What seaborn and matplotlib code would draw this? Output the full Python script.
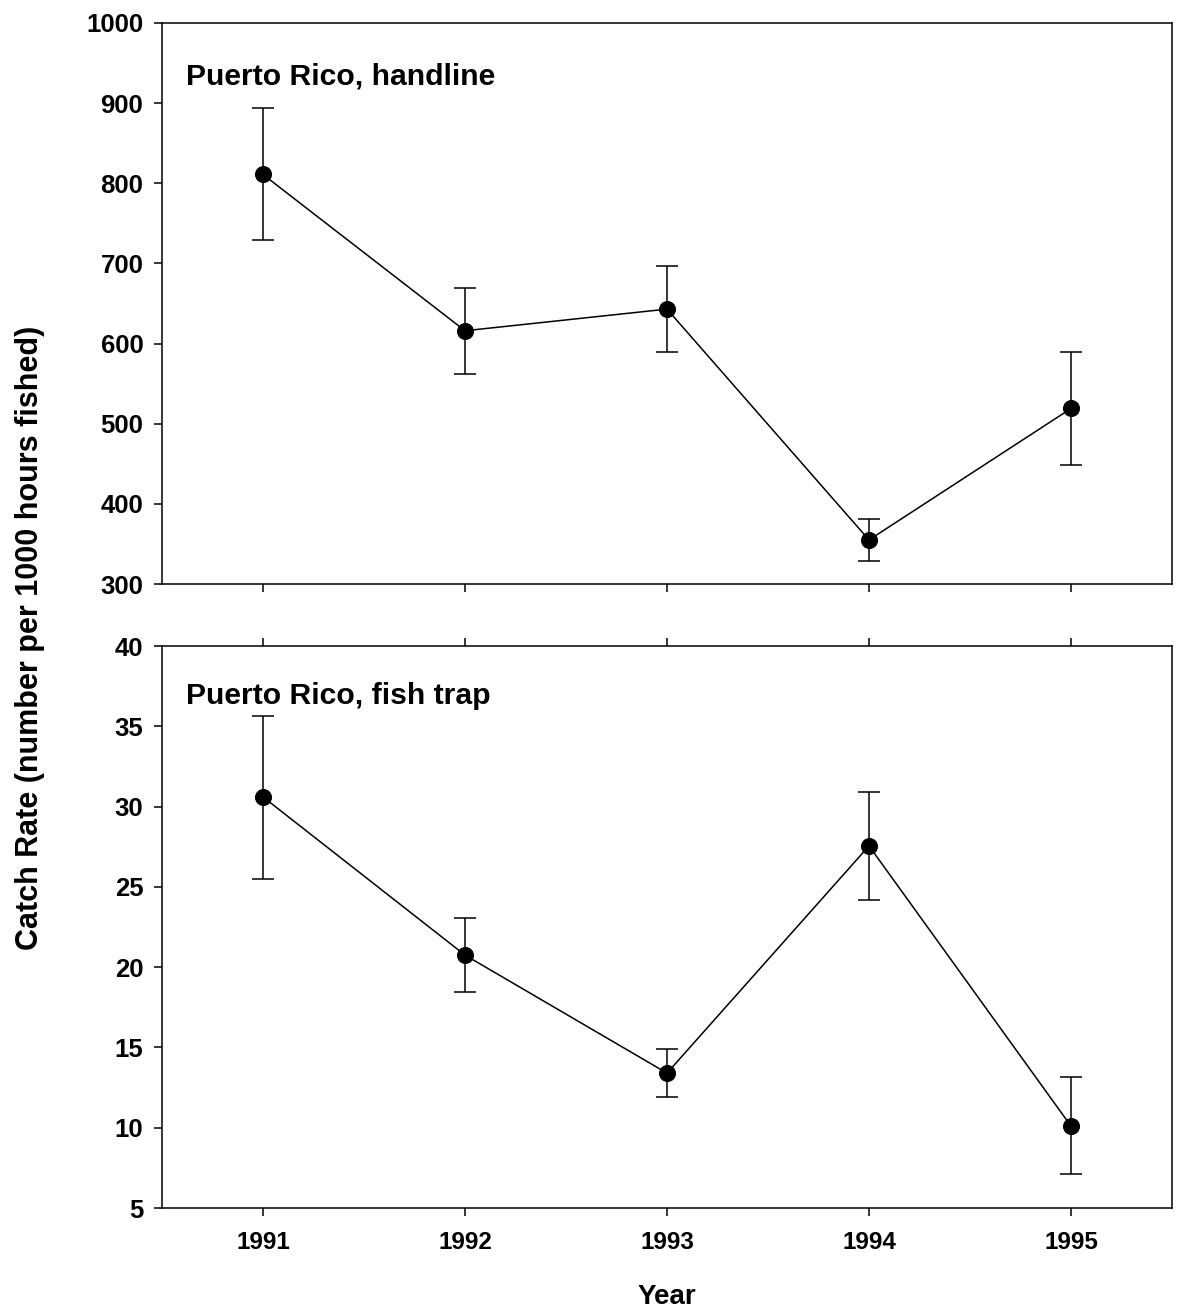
import matplotlib
matplotlib.use("Agg")
import matplotlib.pyplot as plt
import seaborn as sns
import numpy as np
import pandas as pd

years = [1991, 1992, 1993, 1994, 1995]

# Puerto Rico handline catch rate with error bar limits
handline_rate = [811, 616, 643, 355, 519]
handline_low = [729, 562, 589, 329, 448]
handline_high = [894, 669, 697, 381, 589]

# Puerto Rico fish trap catch rate with error bar limits
trap_rate = [30.6, 20.75, 13.4, 27.55, 10.1]
trap_low = [25.5, 18.45, 11.9, 24.2, 7.1]
trap_high = [35.65, 23.05, 14.9, 30.9, 13.15]

sns.set_style("ticks")
plt.rcParams["font.family"] = ["Liberation Sans", "DejaVu Sans"]
plt.rcParams["font.weight"] = "bold"
plt.rcParams["text.color"] = "black"
plt.rcParams["axes.labelcolor"] = "black"
plt.rcParams["xtick.color"] = "black"
plt.rcParams["ytick.color"] = "black"

fig = plt.figure(figsize=(11.77, 13.10), dpi=100)
W, H = 1177, 1310
ax1 = fig.add_axes([162 / W, 1 - 584 / H, (1172 - 162) / W, (584 - 23) / H])
ax2 = fig.add_axes([162 / W, 1 - 1208 / H, (1172 - 162) / W, (1208 - 646) / H])


def panel(ax, rate, low, high, ylim, yticks, label, label_y):
    df = pd.DataFrame({"Year": years, "Rate": rate})
    sns.lineplot(data=df, x="Year", y="Rate", ax=ax, color="black", lw=1.1,
                 marker="o", markersize=11.5, markeredgecolor="black",
                 markerfacecolor="black", zorder=3)
    r = np.array(rate)
    yerr = [r - np.array(low), np.array(high) - r]
    ax.errorbar(years, rate, yerr=yerr, fmt="none", ecolor="black",
                elinewidth=1.1, capsize=8, capthick=1.1, zorder=2)
    ax.set_xlim(1990.5, 1995.5)
    ax.set_ylim(*ylim)
    ax.set_yticks(yticks)
    ax.set_xticks(years)
    ax.set_xlabel("")
    ax.set_ylabel("")
    for s in ax.spines.values():
        s.set_visible(True)
        s.set_linewidth(1.1)
        s.set_color("black")
    ax.tick_params(axis="both", direction="out", length=5.5, width=1.1,
                   colors="black")
    ax.tick_params(axis="y", labelsize=18.5, pad=8)
    ax.tick_params(axis="x", labelsize=17.5, pad=11)
    for t in ax.get_yticklabels() + ax.get_xticklabels():
        t.set_fontweight("bold")
    ax.text(24 / 1010, label_y, label, transform=ax.transAxes,
            fontsize=21.7, fontweight="bold", va="center", ha="left",
            color="black")


panel(ax1, handline_rate, handline_low, handline_high, (300, 1000),
      range(300, 1001, 100), "Puerto Rico, handline", 1 - 54 / 561)
panel(ax2, trap_rate, trap_low, trap_high, (5, 40),
      range(5, 41, 5), "Puerto Rico, fish trap", 1 - 50 / 562)

ax1.tick_params(axis="x", labelbottom=False)
ax2.tick_params(axis="x", top=True, bottom=True, labeltop=False)

fig.text(667 / W, 1 - 1297 / H, "Year", ha="center", va="center",
         fontsize=20, fontweight="bold", color="black")
fig.text(30 / W, 1 - 638 / H, "Catch Rate (number per 1000 hours fished)",
         ha="center", va="center", rotation=90, fontsize=22,
         fontweight="bold", color="black")

fig.savefig("out.png", dpi=100)
